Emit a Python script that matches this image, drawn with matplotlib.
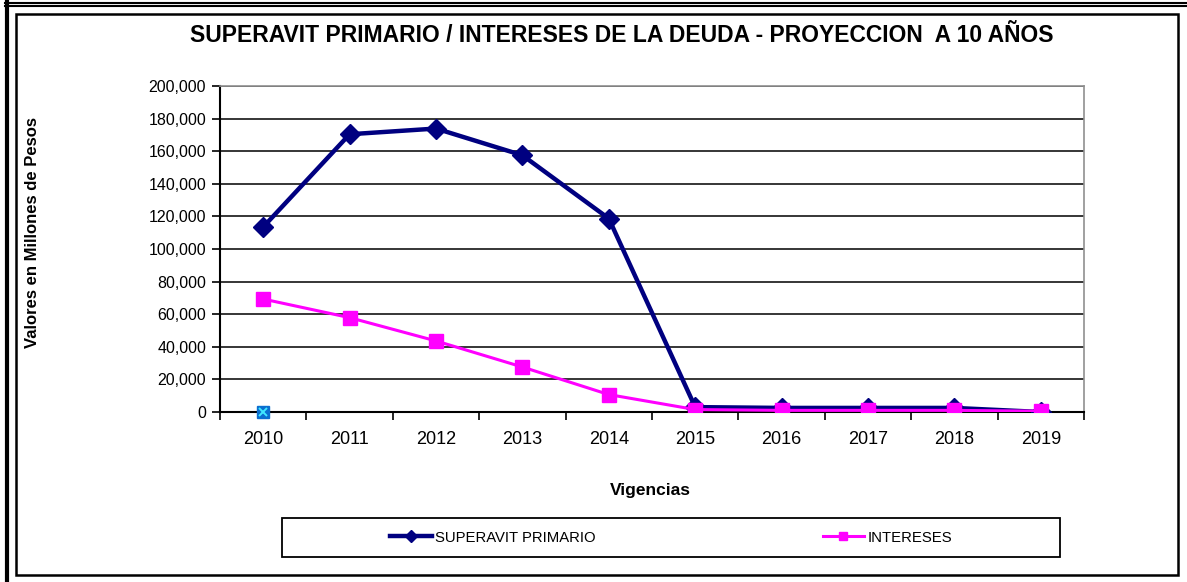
import matplotlib.pyplot as plt
import numpy as np
from matplotlib.lines import Line2D
from matplotlib.patches import Rectangle
from matplotlib.ticker import FuncFormatter

plt.rcParams['font.family'] = ['Liberation Sans', 'DejaVu Sans']

# datos
vigencias = ['2010', '2011', '2012', '2013', '2014', '2015', '2016', '2017', '2018', '2019']
superavit = [113500, 170400, 173900, 157500, 118700, 3000, 2500, 2500, 2500, 0]
intereses = [69300, 57900, 43600, 27600, 10700, 1500, 1000, 1000, 1000, 500]
otro_x = [0]
otro_y = [0]

fig = plt.figure(figsize=(11.87, 5.82), dpi=100)
ax = fig.add_axes([220/1187, 1-412/582, 864/1187, 326/582])

x = np.arange(len(vigencias))
ax.plot(x, superavit, color='#000080', lw=3.2, marker='D', ms=10, mfc='#000080', mec='#000080', zorder=4,
        label='SUPERAVIT PRIMARIO')
ax.plot(x, intereses, color='#FF00FF', lw=2.2, marker='s', ms=10, mfc='#FF00FF', mec='#FF00FF', zorder=5,
        label='INTERESES')
ax.plot(otro_x, otro_y, ls='none', marker='s', ms=9, mfc='#0a6fd0', mec='#0a6fd0', zorder=6, clip_on=False)
ax.plot(otro_x, otro_y, ls='none', marker='x', ms=6, mew=1.4, color='#40e8ff', zorder=7, clip_on=False)

ax.set_xlim(-0.5, 9.5)
ax.set_ylim(0, 200000)
ax.set_yticks(np.arange(0, 200001, 20000))
ax.yaxis.set_major_formatter(FuncFormatter(lambda v, p: '{:,.0f}'.format(v)))
ax.set_xticks(x)
ax.set_xticklabels(vigencias)
ax.set_xticks(np.arange(-0.5, 9.6, 1), minor=True)
ax.tick_params(axis='x', which='major', length=0, pad=14, labelsize=13)
ax.tick_params(axis='x', which='minor', length=6, width=1.2, direction='out', color='black')
ax.tick_params(axis='y', length=6, width=1.2, direction='out', labelsize=11.5, pad=4)
ax.grid(axis='y', color='black', lw=1.1)
ax.set_axisbelow(True)
for s in ['top', 'right']:
    ax.spines[s].set_color('#909090')
    ax.spines[s].set_linewidth(1.2)
for s in ['left', 'bottom']:
    ax.spines[s].set_color('black')
    ax.spines[s].set_linewidth(1.5)

fig.text(650/1187, 1-491/582, 'Vigencias', fontsize=12.5, fontweight='bold', ha='center', va='center')
fig.text(33/1187, 1-232/582, 'Valores en Millones de Pesos', rotation=90, fontsize=12,
         fontweight='bold', ha='center', va='center')
fig.text(622/1187, 1-36/582, 'SUPERAVIT PRIMARIO / INTERESES DE LA DEUDA - PROYECCION  A 10 AÑOS',
         fontsize=16.5, fontweight='bold', ha='center', va='center')

leg = fig.legend(loc='center', bbox_to_anchor=(282/1187, 1-557/582, 778/1187, 39/582),
                 ncol=2, fontsize=10.7, frameon=False, columnspacing=15.3, handlelength=2.8,
                 handletextpad=0.2, markerscale=0.6)
fig.patches.append(Rectangle((282/1187, 1-557/582), 778/1187, 39/582, transform=fig.transFigure,
                             fill=False, edgecolor='black', lw=1.3))

# marcos del area del grafico
fig.patches.append(Rectangle((16/1187, 1-575/582), 1162/1187, 561/582, transform=fig.transFigure,
                             fill=False, edgecolor='black', lw=1.8))
fig.lines.append(Line2D([6.5/1187, 6.5/1187], [0, 1-2/582], transform=fig.transFigure, color='black', lw=3))
fig.lines.append(Line2D([5/1187, 1], [1-2.5/582, 1-2.5/582], transform=fig.transFigure, color='black', lw=1.5))
fig.lines.append(Line2D([5/1187, 1], [1-6/582, 1-6/582], transform=fig.transFigure, color='black', lw=1.5))

fig.savefig('out.png', dpi=100)
